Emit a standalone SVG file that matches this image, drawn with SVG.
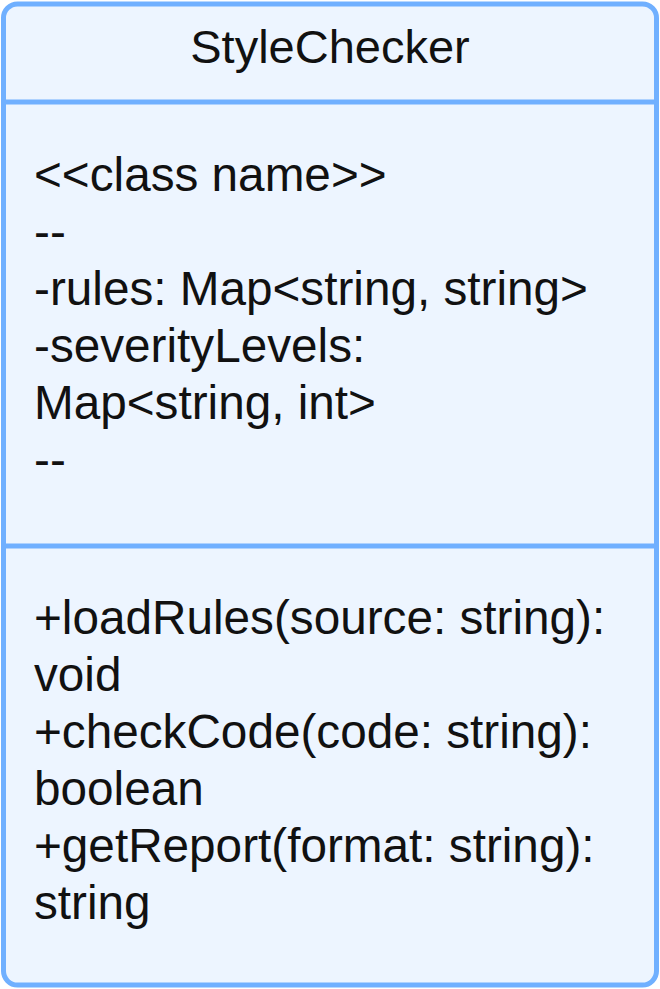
<svg xmlns="http://www.w3.org/2000/svg" width="660" height="989" viewBox="0 0 660 989">
<style>
.box{fill:#edf5ff;stroke:#70b0ff;stroke-width:5}
.div{stroke:#70b0ff;stroke-width:5}
.t{font-family:"Liberation Sans",Arial,sans-serif;font-size:47.7px;fill:#111}
.h{font-family:"Liberation Sans",Arial,sans-serif;font-size:47px;fill:#111}
</style>
<g id="StyleChecker">
<rect class="box" x="3.5" y="4" width="653" height="981" rx="14" ry="14"/>
<line class="div" x1="3.5" y1="102" x2="656.5" y2="102"/>
<line class="div" x1="3.5" y1="546" x2="656.5" y2="546"/>
<text class="h" x="330" y="63" text-anchor="middle">StyleChecker</text>
<text class="t" x="34" y="191">&lt;&lt;class name&gt;&gt;</text>
<text class="t" x="34" y="248">--</text>
<text class="t" x="34" y="305">-rules: Map&lt;string, string&gt;</text>
<text class="t" x="34" y="362">-severityLevels:</text>
<text class="t" x="34" y="419">Map&lt;string, int&gt;</text>
<text class="t" x="34" y="476">--</text>
<text class="t" x="34" y="634">+loadRules(source: string):</text>
<text class="t" x="34" y="691">void</text>
<text class="t" x="34" y="748">+checkCode(code: string):</text>
<text class="t" x="34" y="805">boolean</text>
<text class="t" x="34" y="862">+getReport(format: string):</text>
<text class="t" x="34" y="919">string</text>
</g>
</svg>
